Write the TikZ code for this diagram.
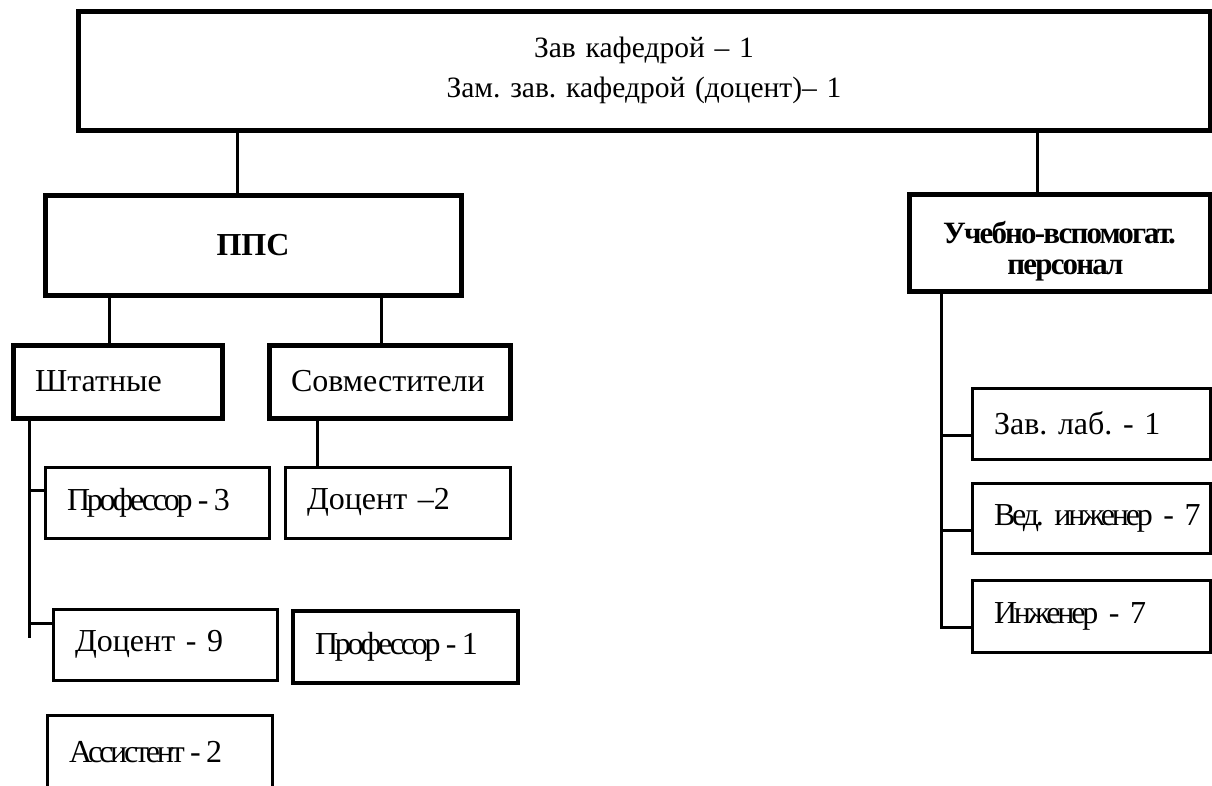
\documentclass[tikz,border=0pt]{standalone}
\usepackage{fontspec}
\setmainfont{Liberation Serif}
\usetikzlibrary{positioning}
\hyphenpenalty=10000
\exhyphenpenalty=10000
\frenchspacing
\newcommand{\tightw}[1]{{\addfontfeature{LetterSpace=-10}#1}}

\begin{document}
\begin{tikzpicture}[
	x=1pt, y=-1pt,
	headbox/.style={
		rectangle,
		draw=black,
		line width=5pt,
		anchor=north west,
		outer sep=0pt,
		inner xsep=22pt,
		inner ysep=0pt,
		align=left,
		font=\fontsize{32}{40}\selectfont},
	staffbox/.style={
		headbox,
		line width=3pt},
	myline/.style={line width=3pt}
	]
	\useasboundingbox (0,0) rectangle (1212,785);
	\clip (0,0) rectangle (1212,785);
	
	\node[headbox,align=center,text width=1088pt,minimum height=119pt,font=\fontsize{29.5}{40}\selectfont] (head) at (78,11) {Зав кафедрой – 1\\Зам. зав. кафедрой (доцент)– 1};
	\node[headbox,align=center,text width=372pt,minimum height=100pt,font=\fontsize{32}{40}\selectfont\bfseries] (pps) at (45,195) {ППС};
	\node[headbox,align=center,text width=257pt,text height=40pt,minimum height=97pt,font=\fontsize{31}{31}\selectfont\bfseries\addfontfeature{LetterSpace=-6}] (usp) at (909,194) {Учебно-вспомогат.\\\hspace*{12pt}персонал};
	
	% ППС
	\node[headbox,text width=165pt,minimum height=73pt] (shtat) at (13,345) {Штатные};
	\node[headbox,text width=197pt,minimum height=73pt] (sovm) at (269,345) {Совместители};
	\node[staffbox,text width=180pt,minimum height=71pt] (prof3) at (45,467) {\tightw{Профессор\,-\,3}};
	\node[staffbox,text width=181pt,minimum height=71pt] (doc2) at (285,467) {Доцент~–2};
	\node[staffbox,text width=180pt,minimum height=71pt] (doc9) at (53,609) {Доцент~-~9};
	\node[staffbox,line width=4pt,text width=181pt,minimum height=72pt] (prof1) at (293,611) {\tightw{Профессор\,-\,1}};
	\node[staffbox,text width=181pt,minimum height=74pt] (assist) at (47,715) {\tightw{Ассистент\,-\,2}};
	
	% учебно-вспомогательный персонал
	\node[staffbox,text width=194pt,minimum height=71pt] (zavlab) at (972,388) {Зав.~лаб.~-~1};
	\node[staffbox,text width=194pt,minimum height=70pt] (vedeng) at (972,483) {\tightw{Вед.~инженер}~-~7};
	\node[staffbox,text width=194pt,minimum height=72pt] (eng) at (972,580) {\tightw{Инженер}~-~7};
	
	\draw[myline] ([xshift=-16pt]pps.north) -- ([xshift=-16pt]pps.north |- head.south);
	\draw[myline] ([xshift=-22pt]usp.north) -- ([xshift=-22pt]usp.north |- head.south);
	\draw[myline] ([xshift=-8pt]shtat.north) -- ([xshift=-8pt]shtat.north |- pps.south);
	\draw[myline] ([xshift=-8pt]sovm.north) -- ([xshift=-8pt]sovm.north |- pps.south);
	\draw[myline] ([xshift=32pt]doc2.north west) -- ([xshift=32pt]doc2.north west |- sovm.south);
	
	\coordinate (trunkL) at ([xshift=16pt]shtat.south west);
	\draw[myline] (trunkL) -- ++(0,220);
	\foreach \n/\s in {prof3/12.5, doc9/21.5}% node/shift
		\draw[myline] ([yshift=\s pt]\n.west) -- ([yshift=\s pt]\n.west -| trunkL);
	
	\coordinate (trunkR) at ([xshift=32pt]usp.south west);
	\draw[myline] (trunkR) |- ([yshift=-11pt]eng.west);
	\foreach \n in {zavlab, vedeng}
		\draw[myline] ([yshift=-12pt]\n.west) -- ([yshift=-12pt]\n.west -| trunkR);
	
\end{tikzpicture}
\end{document}
